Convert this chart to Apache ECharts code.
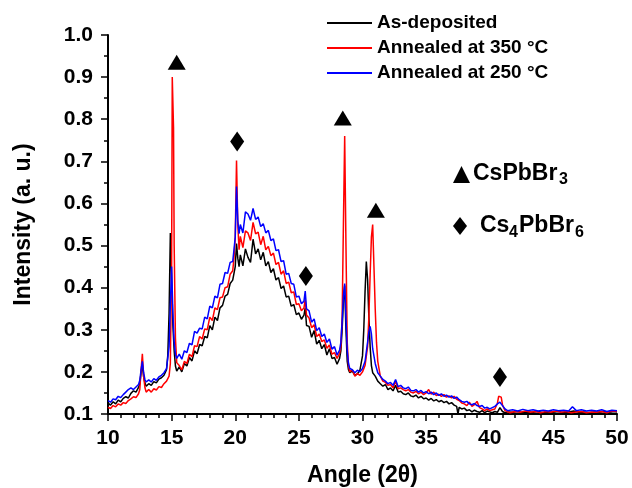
<!DOCTYPE html>
<html>
<head>
<meta charset="utf-8">
<script src="https://cdn.jsdelivr.net/npm/echarts@6/dist/echarts.min.js"></script>
<style>
  html, body { margin: 0; padding: 0; background: #fff; }
  #chart { width: 632px; height: 488px; }
</style>
</head>
<body>
<div id="chart"></div>
<script>
// XRD patterns, [angle 2theta, intensity a.u.]
var asDeposited = [
  [10.0,.126],[10.2,.121],[10.4,.129],[10.6,.124],[10.8,.133],[11.0,.129],[11.2,.137],[11.4,.141],[11.6,.138],[11.8,.149],
  [12.0,.155],[12.2,.152],[12.4,.163],[12.5,.172],[12.6,.198],[12.7,.216],[12.8,.188],[12.9,.174],[13.0,.166],[13.2,.172],
  [13.4,.168],[13.6,.177],[13.8,.174],[14.0,.183],[14.2,.186],[14.4,.192],[14.6,.205],[14.7,.24],[14.8,.34],[14.9,.53],
  [15.0,.42],[15.1,.31],[15.2,.25],[15.3,.214],[15.4,.202],
  [15.6,.212],[15.8,.2],[16.0,.22],[16.2,.214],[16.4,.234],[16.6,.226],[16.8,.25],[17.0,.243],[17.2,.265],[17.4,.262],
  [17.6,.284],[17.8,.281],[18.0,.31],[18.2,.3],[18.4,.33],[18.6,.322],[18.8,.352],[19.0,.358],[19.2,.38],[19.4,.384],
  [19.6,.41],[19.8,.418],[20.0,.45],[20.1,.505],[20.2,.47],[20.3,.45],[20.4,.478],[20.6,.452],[20.8,.492],[21.0,.472],
  [21.2,.46],[21.4,.515],[21.6,.48],[21.8,.492],[22.0,.466],[22.2,.484],[22.4,.452],[22.6,.462],[22.8,.436],[23.0,.445],
  [23.2,.418],[23.4,.424],[23.6,.398],[23.8,.404],[24.0,.378],[24.2,.38],[24.4,.356],[24.6,.36],[24.8,.336],[25.0,.34],
  [25.2,.325],[25.4,.335],[25.5,.352],[25.6,.31],[25.8,.308],[26.0,.282],[26.2,.298],[26.4,.266],[26.6,.275],[26.8,.255],
  [27.0,.265],[27.2,.24],[27.4,.255],[27.6,.232],[27.8,.234],[28.0,.218],[28.2,.232],
  [28.3,.25],[28.4,.3],[28.5,.37],[28.6,.405],[28.7,.3],[28.8,.225],[28.9,.205],[29.0,.198],
  [29.2,.202],[29.4,.192],[29.6,.195],[29.8,.205],[30.0,.238],[30.1,.3],[30.2,.39],[30.3,.462],[30.4,.42],[30.5,.33],
  [30.6,.26],[30.7,.215],[30.8,.198],[31.0,.19],[31.2,.178],[31.4,.172],[31.6,.166],[31.8,.17],[32.0,.158],[32.2,.162],
  [32.4,.155],[32.6,.168],[32.8,.152],[33.0,.154],[33.2,.148],[33.4,.146],[33.6,.15],[33.8,.143],[34.0,.141],[34.2,.145],
  [34.4,.138],[34.6,.142],[34.8,.136],[35.0,.138],[35.2,.133],[35.4,.137],[35.6,.131],[35.8,.134],[36.0,.129],[36.2,.132],
  [36.4,.127],[36.6,.13],[36.8,.124],[37.0,.127],[37.2,.121],[37.4,.118],[37.5,.1],[37.6,.116],[37.8,.112],[38.0,.114],
  [38.2,.108],[38.4,.11],[38.6,.105],[38.8,.109],[39.0,.106],[39.2,.104],[39.4,.108],[39.6,.103],[39.8,.107],[40.0,.105],
  [40.2,.103],[40.4,.106],[40.6,.104],[40.8,.115],[41.0,.106],[41.2,.103],[41.4,.105],[41.8,.104],[42.2,.106],[42.6,.103],
  [43.0,.105],[43.4,.104],[43.8,.106],[44.2,.103],[44.6,.105],[45.0,.104],[45.4,.106],[45.8,.103],[46.2,.105],[46.6,.107],
  [47.0,.104],[47.4,.105],[47.8,.103],[48.2,.105],[48.6,.104],[49.0,.106],[49.4,.104],[49.8,.106],[50.0,.105]
];

var annealed350 = [
  [10.0,.116],[10.2,.113],[10.4,.12],[10.6,.117],[10.8,.124],[11.0,.121],[11.2,.127],[11.4,.125],[11.6,.132],[11.8,.136],
  [12.0,.141],[12.2,.139],[12.4,.148],[12.5,.158],[12.6,.205],[12.7,.243],[12.8,.19],[12.9,.163],[13.0,.152],[13.2,.158],
  [13.4,.152],[13.6,.16],[13.8,.157],[14.0,.165],[14.2,.163],[14.4,.172],[14.6,.178],[14.8,.19],[14.9,.22],[15.0,.45],
  [15.05,.9],[15.15,.78],[15.2,.5],[15.3,.28],[15.4,.222],
  [15.6,.215],[15.8,.205],[16.0,.225],[16.2,.22],[16.4,.242],[16.6,.236],[16.8,.262],[17.0,.26],[17.2,.284],[17.4,.278],
  [17.6,.302],[17.8,.3],[18.0,.33],[18.2,.322],[18.4,.352],[18.6,.348],[18.8,.376],[19.0,.378],[19.2,.4],[19.4,.402],
  [19.6,.432],[19.8,.44],[19.9,.47],[20.0,.52],[20.1,.702],[20.2,.55],[20.3,.49],[20.4,.522],[20.6,.495],[20.8,.535],
  [21.0,.53],[21.2,.512],[21.4,.555],[21.6,.528],[21.8,.532],[22.0,.502],[22.2,.522],[22.4,.49],[22.6,.498],[22.8,.476],
  [23.0,.482],[23.2,.455],[23.4,.46],[23.6,.432],[23.8,.44],[24.0,.41],[24.2,.413],[24.4,.388],[24.6,.39],[24.8,.36],
  [25.0,.362],[25.2,.345],[25.4,.352],[25.5,.372],[25.6,.335],[25.8,.328],[26.0,.305],[26.2,.312],[26.4,.284],[26.6,.29],
  [26.8,.272],[27.0,.276],[27.2,.256],[27.4,.264],[27.6,.242],[27.8,.246],[28.0,.232],[28.2,.244],
  [28.3,.26],[28.4,.33],[28.5,.55],[28.6,.76],[28.7,.5],[28.8,.27],[28.9,.215],
  [29.0,.2],[29.2,.205],[29.4,.19],[29.6,.196],[29.8,.192],[30.0,.2],[30.2,.215],[30.4,.26],[30.5,.33],[30.6,.43],
  [30.7,.52],[30.8,.55],[30.9,.45],[31.0,.35],[31.1,.27],[31.2,.225],[31.4,.19],[31.6,.178],[31.8,.175],[32.0,.168],
  [32.2,.17],[32.4,.162],[32.6,.178],[32.8,.16],[33.0,.162],[33.2,.158],[33.4,.155],[33.6,.158],[33.8,.152],[34.0,.15],
  [34.2,.154],[34.4,.148],[34.6,.152],[34.8,.146],[35.0,.15],[35.2,.158],[35.4,.147],[35.6,.152],[35.8,.144],[36.0,.147],
  [36.2,.142],[36.4,.146],[36.6,.14],[36.8,.143],[37.0,.138],[37.2,.142],[37.4,.135],[37.6,.132],[37.8,.126],[38.0,.124],
  [38.2,.12],[38.4,.128],[38.6,.118],[38.8,.122],[39.0,.13],[39.2,.115],[39.4,.112],[39.6,.108],[39.8,.112],[40.0,.108],
  [40.2,.11],[40.4,.112],[40.6,.125],[40.7,.142],[40.8,.145],[40.9,.14],[41.0,.122],[41.2,.108],[41.4,.105],[41.6,.103],
  [42.0,.106],[42.4,.104],[42.8,.107],[43.2,.104],[43.6,.106],[44.0,.103],[44.4,.106],[44.8,.104],[45.2,.107],[45.6,.104],
  [46.0,.106],[46.4,.103],[46.8,.105],[47.2,.106],[47.6,.103],[48.0,.105],[48.4,.104],[48.8,.106],[49.2,.103],[49.6,.107],
  [50.0,.106]
];

var annealed250 = [
  [10.0,.132],[10.2,.128],[10.4,.136],[10.6,.134],[10.8,.142],[11.0,.139],[11.2,.146],[11.4,.152],[11.6,.158],[11.8,.162],
  [12.0,.158],[12.2,.164],[12.4,.17],[12.5,.18],[12.6,.205],[12.7,.225],[12.8,.198],[12.9,.182],[13.0,.176],[13.2,.181],
  [13.4,.176],[13.6,.184],[13.8,.18],[14.0,.188],[14.2,.192],[14.4,.198],[14.6,.208],[14.8,.26],[14.9,.36],[15.0,.45],
  [15.1,.34],[15.2,.27],[15.3,.242],[15.4,.232],
  [15.6,.242],[15.8,.23],[16.0,.25],[16.2,.246],[16.4,.268],[16.6,.264],[16.8,.296],[17.0,.292],[17.2,.304],[17.4,.302],
  [17.6,.33],[17.8,.326],[18.0,.356],[18.2,.352],[18.4,.38],[18.6,.376],[18.8,.408],[19.0,.41],[19.2,.436],[19.4,.434],
  [19.6,.46],[19.8,.462],[19.9,.49],[20.0,.52],[20.1,.64],[20.2,.56],[20.3,.528],[20.4,.55],[20.6,.53],[20.8,.58],
  [21.0,.575],[21.2,.56],[21.4,.588],[21.6,.562],[21.8,.568],[22.0,.545],[22.2,.552],[22.4,.53],[22.6,.536],[22.8,.512],
  [23.0,.516],[23.2,.488],[23.4,.49],[23.6,.462],[23.8,.464],[24.0,.432],[24.2,.434],[24.4,.41],[24.6,.408],[24.8,.378],
  [25.0,.38],[25.2,.362],[25.4,.368],[25.5,.392],[25.6,.35],[25.8,.345],[26.0,.318],[26.2,.326],[26.4,.298],[26.6,.305],
  [26.8,.284],[27.0,.29],[27.2,.27],[27.4,.278],[27.6,.254],[27.8,.26],[28.0,.24],[28.2,.252],
  [28.3,.27],[28.4,.32],[28.5,.38],[28.6,.41],[28.7,.33],[28.8,.25],[28.9,.22],[29.0,.208],
  [29.2,.205],[29.4,.198],[29.6,.204],[29.8,.2],[30.0,.208],[30.2,.225],[30.4,.27],[30.5,.295],[30.6,.308],[30.7,.29],
  [30.8,.255],[31.0,.22],[31.2,.198],[31.4,.19],[31.6,.182],[31.8,.178],[32.0,.172],[32.2,.175],[32.4,.168],[32.6,.182],
  [32.8,.165],[33.0,.168],[33.2,.162],[33.4,.16],[33.6,.164],[33.8,.156],[34.0,.155],[34.2,.158],[34.4,.152],[34.6,.156],
  [34.8,.15],[35.0,.153],[35.2,.148],[35.4,.152],[35.6,.146],[35.8,.15],[36.0,.144],[36.2,.148],[36.4,.142],[36.6,.145],
  [36.8,.14],[37.0,.143],[37.2,.137],[37.4,.14],[37.6,.134],[37.8,.13],[38.0,.128],[38.2,.13],[38.4,.124],[38.6,.122],
  [38.8,.125],[39.0,.12],[39.2,.118],[39.4,.12],[39.6,.114],[39.8,.116],[40.0,.112],[40.2,.115],[40.4,.118],[40.6,.124],
  [40.8,.128],[41.0,.12],[41.2,.112],[41.4,.108],[41.8,.11],[42.2,.107],[42.6,.111],[43.0,.108],[43.4,.11],[43.8,.107],
  [44.2,.109],[44.6,.107],[45.0,.11],[45.4,.108],[45.8,.109],[46.2,.107],[46.5,.117],[46.8,.108],[47.2,.11],[47.6,.107],
  [48.0,.109],[48.4,.107],[48.8,.11],[49.2,.106],[49.6,.109],[50.0,.108]
];

// phase markers above the peaks
var cspbbr3Marks = [[15.4, 0.935], [28.45, 0.803], [31.05, 0.584]];
var cs4pbbr6Marks = [[20.15, 0.747], [25.55, 0.428], [40.8, 0.188]];

var seriesNames = ["As-deposited", "Annealed at 350 °C", "Annealed at 250 °C"];
var seriesColors = ["#000000", "#ff0000", "#0000ff"];

var FONT = '"Liberation Sans", Arial, sans-serif';

var myChart = echarts.init(document.getElementById("chart"));

function lineSeries(i, data) {
  return {
    name: seriesNames[i],
    type: "line",
    data: data,
    showSymbol: false,
    symbol: "none",
    lineStyle: { color: seriesColors[i], width: 1.5 },
    itemStyle: { color: seriesColors[i] },
    z: 2 + i
  };
}

var option = {
  animation: false,
  backgroundColor: "#fff",
  grid: { left: 108, right: 15, top: 35, bottom: 74, outerBoundsMode: "none" },
  legend: {
    data: seriesNames,
    orient: "vertical",
    left: 327,
    top: 13,
    padding: 0,
    icon: "rect",
    itemWidth: 45,
    itemHeight: 2,
    itemGap: 5,
    textStyle: { fontFamily: FONT, fontWeight: "bold", fontSize: 19, lineHeight: 20, color: "#000" }
  },
  xAxis: {
    type: "value",
    min: 10,
    max: 50,
    interval: 5,
    name: "Angle (2θ)",
    nameLocation: "middle",
    nameGap: 50,
    nameTextStyle: { fontFamily: FONT, fontWeight: "bold", fontSize: 23, color: "#000" },
    axisLine: { show: true, lineStyle: { color: "#000", width: 2 } },
    axisTick: { show: true, length: 7, lineStyle: { color: "#000", width: 1.5 } },
    minorTick: { show: true, splitNumber: 5, length: 4, lineStyle: { color: "#000", width: 1.5 } },
    splitLine: { show: false },
    axisLabel: { fontFamily: FONT, fontWeight: "bold", fontSize: 21, color: "#000", margin: 14 }
  },
  yAxis: {
    type: "value",
    min: 0.1,
    max: 1.0,
    interval: 0.1,
    name: "Intensity (a. u.)",
    nameLocation: "middle",
    nameGap: 73,
    nameTextStyle: { fontFamily: FONT, fontWeight: "bold", fontSize: 23, color: "#000" },
    axisLine: { show: true, lineStyle: { color: "#000", width: 2 } },
    axisTick: { show: true, length: 7, lineStyle: { color: "#000", width: 1.5 } },
    minorTick: { show: true, splitNumber: 2, length: 4, lineStyle: { color: "#000", width: 1.5 } },
    splitLine: { show: false },
    axisLabel: {
      fontFamily: FONT, fontWeight: "bold", fontSize: 21, color: "#000", margin: 15,
      formatter: function (v) { return v.toFixed(1); }
    }
  },
  series: [
    lineSeries(0, asDeposited),
    lineSeries(1, annealed350),
    lineSeries(2, annealed250),
    {
      type: "scatter",
      data: cspbbr3Marks,
      symbol: "triangle",
      symbolSize: [18, 15],
      itemStyle: { color: "#000", opacity: 1 },
      silent: true,
      z: 10
    },
    {
      type: "scatter",
      data: cs4pbbr6Marks,
      symbol: "diamond",
      symbolSize: [14, 20],
      itemStyle: { color: "#000", opacity: 1 },
      silent: true,
      z: 10
    }
  ],
  graphic: [
    { type: "polygon", shape: { points: [[453, 183], [470, 183], [461.5, 166]] }, style: { fill: "#000" } },
    { type: "text", x: 473, y: 174, style: { text: "CsPbBr", font: "bold 23px " + FONT, fill: "#000", verticalAlign: "middle" } },
    { type: "text", x: 559, y: 180, style: { text: "3", font: "bold 16px " + FONT, fill: "#000", verticalAlign: "middle" } },
    { type: "polygon", shape: { points: [[460, 217], [467, 226], [460, 235], [453, 226]] }, style: { fill: "#000" } },
    { type: "text", x: 480, y: 226, style: { text: "Cs", font: "bold 23px " + FONT, fill: "#000", verticalAlign: "middle" } },
    { type: "text", x: 509, y: 233, style: { text: "4", font: "bold 16px " + FONT, fill: "#000", verticalAlign: "middle" } },
    { type: "text", x: 519, y: 226, style: { text: "PbBr", font: "bold 23px " + FONT, fill: "#000", verticalAlign: "middle" } },
    { type: "text", x: 575, y: 233, style: { text: "6", font: "bold 16px " + FONT, fill: "#000", verticalAlign: "middle" } }
  ]
};

myChart.setOption(option);

window.addEventListener("resize", function () {
  myChart.resize();
});
</script>
</body>
</html>
